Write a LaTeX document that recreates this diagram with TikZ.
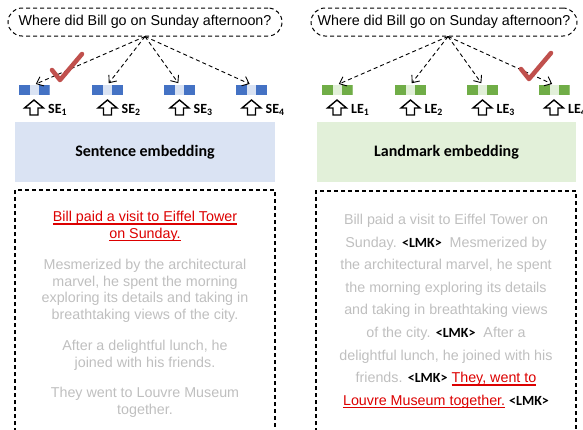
\documentclass[tikz,border=0pt]{standalone}
\usepackage{fontspec}
\setmainfont{Liberation Sans}
\newfontfamily\calibri{Carlito}
\usetikzlibrary{arrows.meta,positioning}

\definecolor{sedark}{RGB}{68,114,196}
\definecolor{selight}{RGB}{218,227,243}
\definecolor{ledark}{RGB}{112,173,71}
\definecolor{lelight}{RGB}{226,240,217}
\definecolor{txtgray}{RGB}{191,191,191}
\definecolor{hired}{RGB}{220,0,0}
\definecolor{tickred}{RGB}{192,80,77}

\newsavebox{\hlbox}
\newcommand{\hl}[1]{{\color{hired}\sbox{\hlbox}{#1}\rlap{\rule[-3pt]{\wd\hlbox}{1.3pt}}\usebox{\hlbox}}}
\newcommand{\lmk}{{\calibri\bfseries\fontsize{14pt}{14pt}\selectfont\color{black}<LMK>}}

\tikzset{
	qbox/.style={draw, dash pattern=on 4pt off 3pt, line width=1pt, rounded corners=14pt, minimum height=28pt, inner sep=0pt, font=\fontsize{14.3pt}{16pt}\selectfont},
	blk/.style={minimum width=31pt, minimum height=10pt, inner sep=0pt, fill=#1light,
		path picture={
			\fill[#1dark] (path picture bounding box.south west) rectangle ([xshift=11pt]path picture bounding box.north west);
			\fill[#1dark] (path picture bounding box.south east) rectangle ([xshift=-11pt]path picture bounding box.north east);
		}},
	probe/.style={dash pattern=on 4pt off 3pt, line width=0.9pt, -{Straight Barb[length=6pt,width=10pt]}, shorten >=2pt},
	lab/.style={anchor=base west, inner sep=0pt, font=\calibri\bfseries\fontsize{14pt}{16pt}\selectfont},
	embbox/.style={minimum width=260pt, minimum height=60pt, inner sep=0pt, font=\calibri\bfseries\fontsize{16pt}{18pt}\selectfont},
	docframe/.style={line width=1.1pt, dash pattern=on 4pt off 3pt},
	doctext/.style={anchor=north, align=center, inner sep=0pt, text=txtgray},
	upar/.pic={\draw[line width=1.4pt] (-4,0) -- (-4,-7) -- (-9.5,-7) -- (0,-15) -- (9.5,-7) -- (4,-7) -- (4,0) -- cycle;},
	tick/.pic={\draw[tickred, line width=4.5pt, line cap=round, line join=round] (-8,-10) -- (0,0) -- (22,-26);}
}

\begin{document}
\begin{tikzpicture}[x=1pt,y=-1pt]
	\useasboundingbox (0,0) rectangle (583,429);

	% sentence embedding side
	\node[qbox, minimum width=274pt] (q1) at (145,22) {Where did Bill go on Sunday afternoon?};
	\foreach \i/\x in {1/34, 2/107.5, 3/179.5, 4/251.5} {
		\node[blk=se] (se\i) at (\x,90) {};
		\pic at (\x,115) {upar};
		\node[lab] (sel\i) at (\x+14,113) {SE\textsubscript{\i}};
		\draw[probe] (q1.south) -- (se\i.north);
	}
	\pic at (60,80) {tick};
	\node[embbox, fill=selight] (sebox) at (145,152) {Sentence embedding};
	\draw[docframe] (15,432) -- (15,190) -- (275,190) -- (275,432);
	\node[doctext, font=\fontsize{14.3pt}{16.5pt}\selectfont] (sedoc) at (145,211) {
		\hl{Bill paid a visit to Eiffel Tower}\\
		\hl{on Sunday.}\\[15pt]
		Mesmerized by the architectural\\
		marvel, he spent the morning\\
		exploring its details and taking in\\
		breathtaking views of the city.\\[15pt]
		After a delightful lunch, he\\
		joined with his friends.\\[14pt]
		They went to Louvre Museum\\
		together.};

	% landmark embedding side
	\node[qbox, minimum width=266pt] (q2) at (444,22) {Where did Bill go on Sunday afternoon?};
	\foreach \i/\x in {1/337, 2/410.5, 3/482.5, 4/554} {
		\node[blk=le] (le\i) at (\x,90) {};
		\pic at (\x,115) {upar};
		\node[lab] (lel\i) at (\x+14,113) {LE\textsubscript{\i}};
		\draw[probe] ([xshift=4pt]q2.south) -- (le\i.north);
	}
	\pic at (529,79) {tick};
	\node[embbox, fill=lelight, minimum width=259pt] (lebox) at (446.5,152) {Landmark embedding};
	\draw[docframe] (316,432) -- (316,191) -- (576,191) -- (576,432);
	\node[doctext, font=\fontsize{14.3pt}{22.6pt}\selectfont] (ledoc) at (446,214) {
		Bill paid a visit to Eiffel Tower on\\
		Sunday. \lmk\ \ Mesmerized by\\
		the architectural marvel, he spent\\
		the morning exploring its details\\
		and taking in breathtaking views\\
		of the city. \lmk\ \ After a\\
		delightful lunch, he joined with his\\
		friends. \lmk\ \hl{They, went to}\\
		\hl{Louvre Museum together.} \lmk};
\end{tikzpicture}
\end{document}
